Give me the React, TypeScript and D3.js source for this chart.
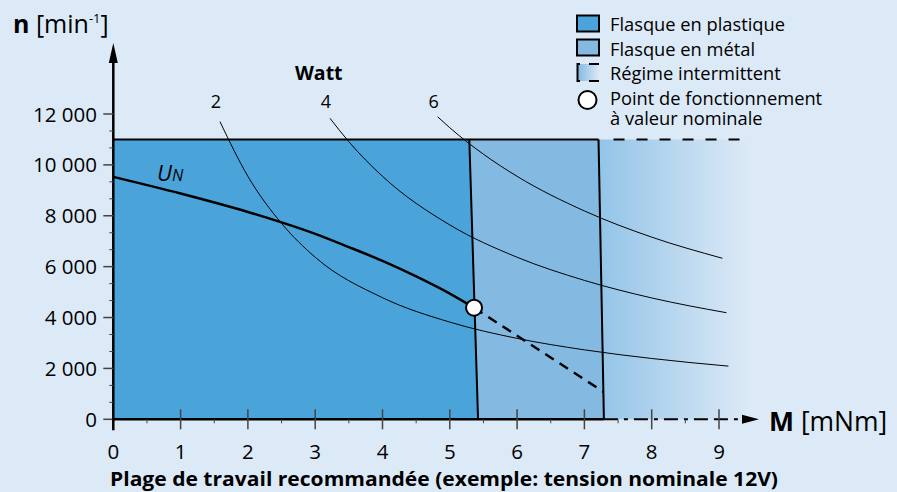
import React from "react";
import * as d3 from "d3";

// ---------- data ----------
const torqueTicks = [0, 1, 2, 3, 4, 5, 6, 7, 8, 9];
const torqueMinorTicks = [0.5, 1.5, 2.5, 3.5, 4.5, 5.5, 6.5, 7.5, 8.5];
const speedTicks = [0, 2000, 4000, 6000, 8000, 10000, 12000];
const speedTickLabels = ["0", "2 000", "4 000", "6 000", "8 000", "10 000", "12 000"];
const speedMinorTicks = [667, 1333, 2667, 3333, 4667, 5333, 6667, 7333, 8667, 9333, 10667, 11333];

const maxSpeed = 11000;
const plasticLimit = [5.29, 5.42]; // torque at top / bottom
const metalLimit = [7.21, 7.29];
const intermittentEnd = 9.42;

const unTorque = [0, 1, 2, 2.5, 3, 3.5, 4, 4.5, 5, 5.36];
const unSpeed = [9530, 8875, 8150, 7740, 7290, 6770, 6225, 5615, 4940, 4385];
const unDashTorque = [5.36, 7.28];
const unDashSpeed = [4385, 1085];

const watt2Torque = [1.585, 2, 2.5, 3, 4, 5, 6, 7, 8, 9.14];
const watt2Speed = [11700, 9550, 7700, 6370, 4780, 3820, 3180, 2730, 2390, 2090];
const watt4Torque = [3.22, 3.5, 4, 5, 6, 7, 8, 9.11];
const watt4Speed = [11830, 10910, 9550, 7640, 6370, 5460, 4770, 4190];
const watt6Torque = [4.82, 5, 5.5, 6, 7, 8, 9.05];
const watt6Speed = [11890, 11460, 10420, 9550, 8190, 7160, 6330];
const wattLabels = ["2", "4", "6"];

const legendItems = ["Flasque en plastique", "Flasque en métal", "Régime intermittent"];
const legendPointLines = ["Point de fonctionnement", "à valeur nominale"];

// ---------- styling ----------
const BG = "#dce9f6";
const PLASTIC = "#4aa4d9";
const METAL = "#84b9e2";
const FONT = "'Open Sans', 'Noto Sans', sans-serif";

export default function App() {
  const W = 897, H = 492;
  const x = d3.scaleLinear().domain([0, 9]).range([113.3, 719]);
  const y = d3.scaleLinear().domain([0, 12000]).range([419.3, 114]);

  const zip = (a: number[], b: number[]) => a.map((v, i) => [v, b[i]] as [number, number]);
  const line = d3
    .line<[number, number]>()
    .x((d) => x(d[0]))
    .y((d) => y(d[1]))
    .curve(d3.curveMonotoneX);
  const straight = d3.line<[number, number]>().x((d) => x(d[0])).y((d) => y(d[1]));

  const plasticPoly = straight([
    [0, 0],
    [0, maxSpeed],
    [plasticLimit[0], maxSpeed],
    [plasticLimit[1], 0],
  ]) + "Z";
  const metalPoly = straight([
    [plasticLimit[1], 0],
    [plasticLimit[0], maxSpeed],
    [metalLimit[0], maxSpeed],
    [metalLimit[1], 0],
  ]) + "Z";
  const interPoly = straight([
    [metalLimit[1], 0],
    [metalLimit[0], maxSpeed],
    [intermittentEnd, maxSpeed],
    [intermittentEnd, 0],
  ]) + "Z";

  const curves = [
    zip(watt2Torque, watt2Speed),
    zip(watt4Torque, watt4Speed),
    zip(watt6Torque, watt6Speed),
  ];

  const x0 = x(0), y0 = y(0);
  const legX = 576;
  const legTextX = 610;

  return (
    <svg width={W} height={H} style={{ position: "absolute", left: 0, top: 0, display: "block" }}>
      <defs>
        <linearGradient id="inter" x1="0" x2="1" y1="0" y2="0">
          <stop offset="0%" stopColor="#93c4e8" />
          <stop offset="100%" stopColor={BG} />
        </linearGradient>
        <linearGradient id="legInter" x1="0" x2="1" y1="0" y2="0">
          <stop offset="0%" stopColor="#84b9e2" />
          <stop offset="100%" stopColor={BG} />
        </linearGradient>
      </defs>
      <rect x={0} y={0} width={W} height={H} fill={BG} />

      {/* regions */}
      <path d={interPoly} fill="url(#inter)" />
      <path d={metalPoly} fill={METAL} />
      <path d={plasticPoly} fill={PLASTIC} />

      {/* top boundary */}
      <line x1={x0} x2={x(metalLimit[0])} y1={y(maxSpeed)} y2={y(maxSpeed)} stroke="#000" strokeWidth={2} />
      <line
        x1={x(metalLimit[0])}
        x2={x(intermittentEnd)}
        y1={y(maxSpeed)}
        y2={y(maxSpeed)}
        stroke="#000"
        strokeWidth={2}
        strokeDasharray="0 15 11 12 11 12 11 12 11 12 11 12 11 100"
      />
      {/* boundaries */}
      <line x1={x(plasticLimit[0])} y1={y(maxSpeed)} x2={x(plasticLimit[1])} y2={y0} stroke="#000" strokeWidth={2} />
      <line x1={x(metalLimit[0])} y1={y(maxSpeed)} x2={x(metalLimit[1])} y2={y0} stroke="#000" strokeWidth={2} />

      {/* power curves */}
      {curves.map((c, i) => (
        <path key={i} d={line(c) || ""} fill="none" stroke="#000" strokeWidth={1} />
      ))}
      {curves.map((c, i) => (
        <text
          key={"l" + i}
          x={x(c[0][0]) - 4}
          y={108}
          fontFamily={FONT}
          fontSize={18}
          textAnchor="middle"
        >
          {wattLabels[i]}
        </text>
      ))}
      <text x={295} y={80} fontFamily={FONT} fontSize={19.5} fontWeight="bold">
        Watt
      </text>

      {/* UN curve */}
      <path d={line(zip(unTorque, unSpeed)) || ""} fill="none" stroke="#000" strokeWidth={2.5} />
      <path
        d={straight(zip(unDashTorque, unDashSpeed)) || ""}
        fill="none"
        stroke="#000"
        strokeWidth={2.5}
        strokeDasharray="10 7"
      />
      <circle cx={x(unDashTorque[0])} cy={y(unDashSpeed[0])} r={8} fill="#fff" stroke="#000" strokeWidth={2} />
      <text x={157} y={181} fontFamily={FONT} fontStyle="italic" fontSize={22}>
        U<tspan fontSize={16}>N</tspan>
      </text>

      {/* y axis */}
      <line x1={x0} x2={x0} y1={y0 + 11} y2={55} stroke="#000" strokeWidth={2.5} />
      <path d={`M${x0},43 L${x0 - 4.5},63 L${x0 + 4.5},63 Z`} fill="#000" />
      {speedTicks.map((t, i) => (
        <g key={"yt" + i}>
          <line x1={x0 - 10} x2={x0} y1={y(t)} y2={y(t)} stroke="#444" strokeWidth={1.5} />
          <text
            x={97}
            y={y(t) + 7.5}
            fontFamily={FONT}
            fontSize={20.5}
            textAnchor="end"
          >
            {speedTickLabels[i]}
          </text>
        </g>
      ))}
      {speedMinorTicks.map((t, i) => (
        <line key={"ym" + i} x1={x0 - 4} x2={x0} y1={y(t)} y2={y(t)} stroke="#444" strokeWidth={1} />
      ))}

      {/* x axis */}
      <line x1={x0 - 1} x2={x(metalLimit[1])} y1={y0} y2={y0} stroke="#000" strokeWidth={2.5} />
      <line
        x1={x(metalLimit[1])}
        x2={746}
        y1={y0}
        y2={y0}
        stroke="#000"
        strokeWidth={2}
        strokeDasharray="14 6 4 6 14 6 4 6 14 6 4 6 14 6"
      />
      <path d={`M759,${y0} L742,${y0 - 4.5} L742,${y0 + 4.5} Z`} fill="#000" />
      {torqueTicks.map((t, i) => (
        <g key={"xt" + i}>
          {i > 0 && (
            <line x1={x(t)} x2={x(t)} y1={y0 - 10} y2={y0 + 10} stroke="#444" strokeWidth={1.5} />
          )}
          <text x={x(t)} y={459} fontFamily={FONT} fontSize={20.5} textAnchor="middle">
            {t}
          </text>
        </g>
      ))}
      {torqueMinorTicks.map((t, i) => (
        <line key={"xm" + i} x1={x(t)} x2={x(t)} y1={y0} y2={y0 + 4} stroke="#444" strokeWidth={1} />
      ))}

      {/* axis titles */}
      <text x={13} y={33} fontFamily={FONT} fontSize={25}>
        <tspan fontWeight="bold">n</tspan>
        <tspan> [min</tspan>
        <tspan fontSize={13} dy={-10}>-1</tspan>
        <tspan dy={10}>]</tspan>
      </text>
      <text x={769} y={431} fontFamily={FONT} fontSize={26.5}>
        <tspan fontWeight="bold">M</tspan>
        <tspan> [mNm]</tspan>
      </text>
      <text
        x={110}
        y={486}
        fontFamily={FONT}
        fontSize={19.5}
        fontWeight="bold"
        textLength={668}
        lengthAdjust="spacingAndGlyphs"
      >
        Plage de travail recommandée (exemple: tension nominale 12V)
      </text>

      {/* legend */}
      <rect x={legX + 1} y={15.5} width={22} height={16} fill={PLASTIC} stroke="#000" strokeWidth={2} />
      <rect x={legX + 1} y={39.5} width={22} height={16} fill={METAL} stroke="#000" strokeWidth={2} />
      <rect x={legX + 2} y={64} width={21} height={17} fill="url(#legInter)" />
      <path d={`M${legX + 4},64 H${legX + 1.5} V81 H${legX + 4}`} fill="none" stroke="#000" strokeWidth={2} />
      <line x1={legX + 13} x2={legX + 23} y1={64} y2={64} stroke="#000" strokeWidth={2} />
      <line x1={legX + 13} x2={legX + 23} y1={81} y2={81} stroke="#000" strokeWidth={2} />
      <circle cx={legX + 11.5} cy={100} r={9} fill="#fff" stroke="#000" strokeWidth={2} />
      {legendItems.map((t, i) => (
        <text key={"lg" + i} x={legTextX} y={31 + i * 24.5} fontFamily={FONT} fontSize={18.3}>
          {t}
        </text>
      ))}
      <text x={legTextX} y={105} fontFamily={FONT} fontSize={18.3}>
        <tspan x={legTextX}>{legendPointLines[0]}</tspan>
        <tspan x={legTextX} dy={19.5}>{legendPointLines[1]}</tspan>
      </text>
    </svg>
  );
}
